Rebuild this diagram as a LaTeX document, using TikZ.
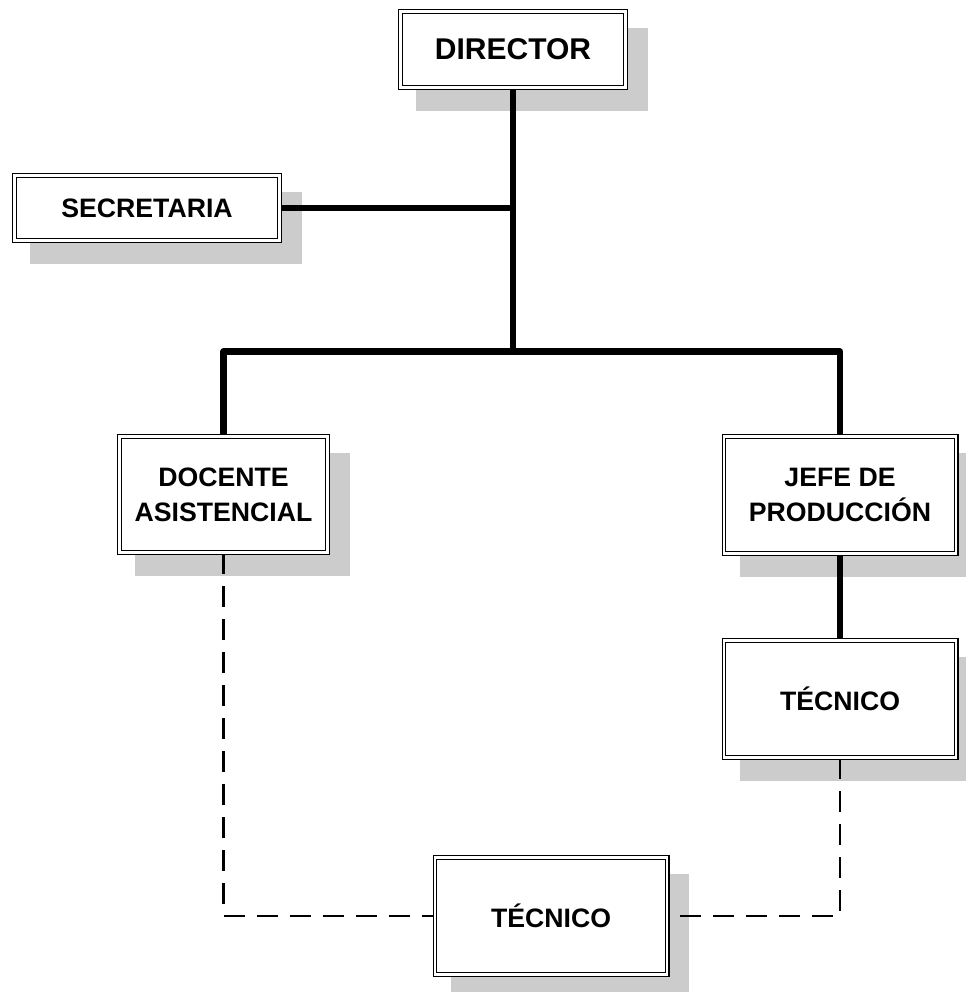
\documentclass[tikz,border=0pt]{standalone}
\usepackage{fontspec}
\setmainfont{Liberation Sans}
\definecolor{shadowgray}{gray}{0.8}
\pgfdeclarelayer{shadowlayer}
\pgfdeclarelayer{linelayer}
\pgfsetlayers{shadowlayer,linelayer,main}
\tikzset{
  orgbox/.style={draw, double, line width=0.8pt, double distance=2pt, fill=white,
    inner sep=0pt, align=center, font=\fontsize{20}{26}\selectfont\bfseries},
  thickline/.style={line width=4.8pt, line join=round, line cap=round},
  dashline/.style={line width=2pt, dash pattern=on 15.75pt off 9pt},
}
\newcommand\boxshadow[1]{\fill[shadowgray] ([shift={(16.6,17.6)}]#1.north west) rectangle ([shift={(21.4,22.4)}]#1.south east);}
\begin{document}
\begin{tikzpicture}[x=0.75pt,y=-0.75pt]
\useasboundingbox (0,0) rectangle (966,992);
\node[orgbox, minimum width=168.9pt, minimum height=57.15pt, font=\fontsize{22.5}{28}\selectfont\bfseries] (dir) at (513,49.5) {DIRECTOR};
\node[orgbox, minimum width=198.9pt, minimum height=48.9pt] (sec) at (147,208) {SECRETARIA};
\node[orgbox, minimum width=156.15pt, minimum height=87.15pt] (doc) at (223.5,494.5) {DOCENTE\\ASISTENCIAL};
\node[orgbox, minimum width=174.15pt, minimum height=87.9pt] (jefe) at (840,495) {JEFE DE\\PRODUCCIÓN};
\node[orgbox, minimum width=174.15pt, minimum height=87.9pt] (tec1) at (840,699) {TÉCNICO};
\node[orgbox, minimum width=174.15pt, minimum height=87.9pt] (tec2) at (551,916) {TÉCNICO};
\coordinate (j) at (513.5,351.5);
\coordinate (dl) at (223.5,916);
\coordinate (dr) at (840,916);
\begin{pgfonlayer}{shadowlayer}
\boxshadow{dir}
\boxshadow{sec}
\boxshadow{doc}
\boxshadow{jefe}
\boxshadow{tec1}
\boxshadow{tec2}
\end{pgfonlayer}
\begin{pgfonlayer}{linelayer}
\draw[thickline] (dir.south) -- (dir.south |- j);
\draw[thickline] (sec.east) -- (dir.south |- sec.east);
\draw[thickline] (doc.north) -- (doc.north |- j) -- (jefe.north |- j) -- (jefe.north);
\draw[thickline] (jefe.south) -- (tec1.north);
\draw[dashline] (doc.south) -- (dl) -- (tec2.west |- dl);
\draw[dashline] (tec1.south) -- (dr) -- (tec2.east |- dr);
\end{pgfonlayer}
\end{tikzpicture}
\end{document}
